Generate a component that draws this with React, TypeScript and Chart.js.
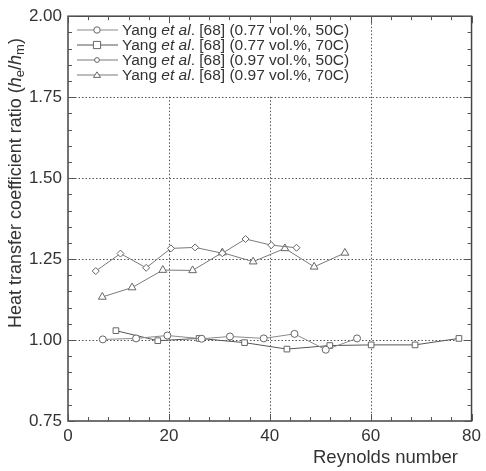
import React, { useEffect, useRef } from 'react';
import { Chart, registerables } from 'chart.js';

Chart.register(...registerables);

// Yang et al. [68] — 0.77 vol.%, 50C (open circles)
const reA = [6.9, 13.5, 19.7, 26.5, 32.1, 38.8, 44.9, 51.1, 57.3];
const ratioA = [1.002, 1.005, 1.014, 1.004, 1.011, 1.005, 1.019, 0.97, 1.005];
// 0.77 vol.%, 70C (open squares)
const reB = [9.5, 17.8, 26.0, 35.0, 43.4, 51.9, 60.1, 68.8, 77.5];
const ratioB = [1.029, 0.998, 1.005, 0.992, 0.972, 0.983, 0.985, 0.985, 1.005];
// 0.97 vol.%, 50C (open diamonds)
const reC = [5.5, 10.4, 15.5, 20.4, 25.2, 30.6, 35.2, 40.3, 45.3];
const ratioC = [1.213, 1.267, 1.223, 1.283, 1.286, 1.268, 1.312, 1.293, 1.285];
// 0.97 vol.%, 70C (open triangles)
const reD = [6.8, 12.7, 18.8, 24.7, 30.6, 36.7, 43.0, 48.8, 54.9];
const ratioD = [1.133, 1.162, 1.216, 1.215, 1.27, 1.242, 1.283, 1.226, 1.269];

const legendConc = ['0.77', '0.77', '0.97', '0.97'];
const legendTemp = ['50C', '70C', '50C', '70C'];
const pointStyles = ['circle', 'rect', 'rectRot', 'triangle'];
const pointSizes = [3.5, 4, 3.5, 4.5];
const legendMarkerSizes = [3.2, 3.6, 2.4, 3.2];
const lineColors = ['#8a8a8a', '#555555', '#7a7a7a', '#7a7a7a'];

const xMajor = [0, 20, 40, 60, 80];
const yMajor = [0.75, 1.0, 1.25, 1.5, 1.75, 2.0];
const xGrid = [20, 40, 60];
const yGrid = [1.0, 1.25, 1.5, 1.75];
const xMinorStep = 4;
const yMinorStep = 0.05;

const FONT = '"Liberation Sans", Arial, Helvetica, sans-serif';

function drawMarker(ctx: CanvasRenderingContext2D, style: string, x: number, y: number, r: number) {
  ctx.beginPath();
  if (style === 'circle') {
    ctx.arc(x, y, r, 0, Math.PI * 2);
  } else if (style === 'rect') {
    ctx.rect(x - r, y - r, 2 * r, 2 * r);
  } else if (style === 'rectRot') {
    ctx.arc(x, y, r, 0, Math.PI * 2);
  } else {
    const h = r * 1.5;
    ctx.moveTo(x, y - h * 0.66);
    ctx.lineTo(x + r * 1.1, y + h * 0.5);
    ctx.lineTo(x - r * 1.1, y + h * 0.5);
    ctx.closePath();
  }
  ctx.fillStyle = '#fff';
  ctx.fill();
  ctx.stroke();
}

const decor = {
  id: 'decor',
  beforeDatasetsDraw(chart: any) {
    const { ctx, chartArea: a, scales } = chart;
    const xs = scales.x;
    const ys = scales.y;
    ctx.save();
    ctx.strokeStyle = '#555';
    ctx.lineWidth = 1;
    ctx.setLineDash([1.5, 2]);
    xGrid.forEach((v) => {
      const px = Math.round(xs.getPixelForValue(v)) + 0.5;
      ctx.beginPath();
      ctx.moveTo(px, a.top);
      ctx.lineTo(px, a.bottom);
      ctx.stroke();
    });
    yGrid.forEach((v) => {
      const py = Math.round(ys.getPixelForValue(v)) + 0.5;
      ctx.beginPath();
      ctx.moveTo(a.left, py);
      ctx.lineTo(a.right, py);
      ctx.stroke();
    });
    ctx.restore();
  },
  afterDatasetsDraw(chart: any) {
    const { ctx, chartArea: a, scales } = chart;
    const xs = scales.x;
    const ys = scales.y;
    ctx.save();

    // legend panel
    ctx.fillStyle = '#fff';
    ctx.fillRect(a.left + 1, a.top + 1, 258, 78);
    const rows = [30, 45, 60, 75];
    rows.forEach((ry, i) => {
      ctx.strokeStyle = lineColors[i];
      ctx.lineWidth = 1;
      ctx.setLineDash([]);
      ctx.beginPath();
      ctx.moveTo(77, ry);
      ctx.lineTo(118, ry);
      ctx.stroke();
      ctx.strokeStyle = '#666';
      drawMarker(ctx, pointStyles[i], 97, ry, legendMarkerSizes[i]);
      ctx.fillStyle = '#333';
      ctx.textBaseline = 'middle';
      ctx.textAlign = 'left';
      let tx = 122;
      const parts: [string, boolean][] = [
        ['Yang ', false],
        ['et al', true],
        ['. [68] (' + legendConc[i] + ' vol.%, ' + legendTemp[i] + ')', false],
      ];
      parts.forEach(([s, it]) => {
        ctx.font = (it ? 'italic ' : '') + '15.5px ' + FONT;
        ctx.fillText(s, tx, ry + 1);
        tx += ctx.measureText(s).width;
      });
    });

    // frame
    ctx.setLineDash([]);
    ctx.strokeStyle = '#444';
    ctx.lineWidth = 1.5;
    ctx.strokeRect(a.left, a.top, a.right - a.left, a.bottom - a.top);

    // inward ticks on all four sides
    ctx.lineWidth = 1;
    ctx.strokeStyle = '#555';
    for (let v = 0; v <= 80.001; v += xMinorStep) {
      const px = Math.round(xs.getPixelForValue(v)) + 0.5;
      const len = xMajor.some((m) => Math.abs(m - v) < 1e-6) ? 7 : 4;
      ctx.beginPath();
      ctx.moveTo(px, a.bottom);
      ctx.lineTo(px, a.bottom - len);
      ctx.moveTo(px, a.top);
      ctx.lineTo(px, a.top + len);
      ctx.stroke();
    }
    for (let v = 0.75; v <= 2.0001; v += yMinorStep) {
      const py = Math.round(ys.getPixelForValue(v)) + 0.5;
      const len = yMajor.some((m) => Math.abs(m - v) < 1e-6) ? 7 : 4;
      ctx.beginPath();
      ctx.moveTo(a.left, py);
      ctx.lineTo(a.left + len, py);
      ctx.moveTo(a.right, py);
      ctx.lineTo(a.right - len, py);
      ctx.stroke();
    }

    // x axis title
    ctx.fillStyle = '#333';
    ctx.font = '18.5px ' + FONT;
    ctx.textAlign = 'right';
    ctx.textBaseline = 'middle';
    ctx.fillText('Reynolds number', 458, 458);

    // y axis title with italic h and subscripts
    const segs: [string, string, number][] = [
      ['Heat transfer coefficient ratio (', '', 0],
      ['h', 'italic ', 0],
      ['e', 'sub', 4],
      ['/', '', 0],
      ['h', 'italic ', 0],
      ['m', 'sub', 4],
      [')', '', 0],
    ];
    const setFont = (kind: string) => {
      ctx.font = kind === 'sub' ? '13px ' + FONT : kind + '18px ' + FONT;
    };
    let total = 0;
    segs.forEach(([s, k]) => {
      setFont(k);
      total += ctx.measureText(s).width;
    });
    ctx.translate(16, 183);
    ctx.rotate(-Math.PI / 2);
    ctx.textAlign = 'left';
    let x0 = -total / 2;
    segs.forEach(([s, k, dy]) => {
      setFont(k);
      ctx.fillText(s, x0, dy);
      x0 += ctx.measureText(s).width;
    });
    ctx.restore();
  },
};

function series(xs: number[], ys: number[], i: number, label: string) {
  return {
    label,
    data: xs.map((x, k) => ({ x, y: ys[k] })),
    borderColor: lineColors[i],
    borderWidth: 1,
    pointStyle: pointStyles[i],
    pointRadius: pointSizes[i],
    pointBackgroundColor: '#fff',
    pointBorderColor: '#666',
    pointBorderWidth: 1,
    tension: 0,
    fill: false,
  };
}

export default function App() {
  const ref = useRef<HTMLCanvasElement | null>(null);

  useEffect(() => {
    document.body.style.margin = '0';
    const canvas = ref.current;
    if (!canvas) return;
    const chart = new Chart(canvas, {
      type: 'line',
      data: {
        datasets: [
          series(reA, ratioA, 0, 'Yang et al. [68] (0.77 vol.%, 50C)'),
          series(reB, ratioB, 1, 'Yang et al. [68] (0.77 vol.%, 70C)'),
          series(reC, ratioC, 2, 'Yang et al. [68] (0.97 vol.%, 50C)'),
          series(reD, ratioD, 3, 'Yang et al. [68] (0.97 vol.%, 70C)'),
        ],
      },
      options: {
        responsive: false,
        animation: false,
        devicePixelRatio: 1,
        layout: { padding: { top: 14, right: 12, left: 0, bottom: 0 } },
        plugins: { legend: { display: false }, tooltip: { enabled: false } },
        scales: {
          x: {
            type: 'linear',
            min: 0,
            max: 80,
            grid: { display: false, drawTicks: false },
            border: { display: false },
            afterFit: (s: any) => {
              s.height = 50;
            },
            afterBuildTicks: (s: any) => {
              s.ticks = xMajor.map((v) => ({ value: v }));
            },
            ticks: {
              padding: 5,
              color: '#333',
              font: { family: FONT, size: 17 },
              maxRotation: 0,
              callback: (v: any) => String(v),
            },
          },
          y: {
            type: 'linear',
            min: 0.75,
            max: 2.0,
            grid: { display: false, drawTicks: false },
            border: { display: false },
            afterFit: (s: any) => {
              s.width = 68;
            },
            afterBuildTicks: (s: any) => {
              s.ticks = yMajor.map((v) => ({ value: v }));
            },
            ticks: {
              padding: 6,
              color: '#333',
              font: { family: FONT, size: 17 },
              callback: (v: any) => Number(v).toFixed(2),
            },
          },
        },
      },
      plugins: [decor],
    });
    return () => chart.destroy();
  }, []);

  return <canvas ref={ref} width={486} height={471} style={{ display: 'block', width: 486, height: 471 }} />;
}
